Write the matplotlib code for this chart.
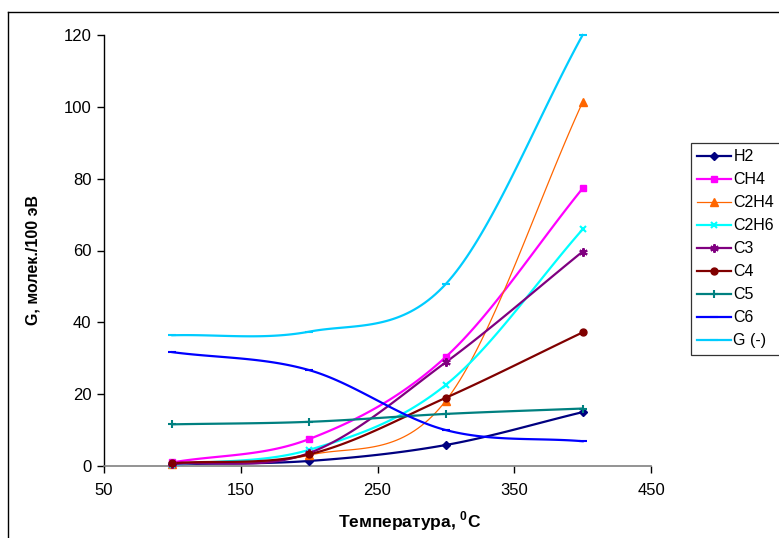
import numpy as np
import matplotlib
matplotlib.use('Agg')
import matplotlib.pyplot as plt
from matplotlib.lines import Line2D

plt.rcParams['font.family'] = ['Liberation Sans', 'DejaVu Sans']
plt.rcParams['mathtext.fontset'] = 'custom'
plt.rcParams['mathtext.rm'] = 'Liberation Sans'
plt.rcParams['mathtext.bf'] = 'Liberation Sans:bold'

# ---- data ----
temperature = [100, 200, 300, 400]
H2 = [0.5, 1.4, 5.85, 15.0]
CH4 = [1.0, 7.5, 30.4, 77.3]
C2H4 = [0.5, 3.0, 18.2, 101.3]
C2H6 = [0.3, 4.5, 22.6, 65.9]
C3 = [0.5, 3.6, 28.9, 59.7]
C4 = [0.8, 3.25, 19.0, 37.2]
C5 = [11.6, 12.3, 14.5, 16.0]
C6 = [31.7, 26.7, 10.0, 6.9]
G = [36.4, 37.4, 50.7, 120.0]

series_names = ['H2', 'CH4', 'C2H4', 'C2H6', 'C3', 'C4', 'C5', 'C6', 'G (-)']
series_values = [H2, CH4, C2H4, C2H6, C3, C4, C5, C6, G]
x_ticks = [50, 150, 250, 350, 450]
y_ticks = [0, 20, 40, 60, 80, 100, 120]

# ---- styles ----
colors = ['#000080', '#FF00FF', '#FF6600', '#00FFFF', '#800080',
          '#800000', '#008080', '#0000FF', '#00CCFF']
markers = ['D', 's', '^', 'x', (6, 2, 0), 'o', '+', '_', '_']
msizes = [4.5, 5, 5.5, 5, 6, 5, 6, 6, 6]
lwidths = [1.6, 1.6, 0.9, 1.6, 1.6, 1.6, 1.6, 1.6, 1.6]


def excel_smooth(x, y, n=40):
    P = np.column_stack([np.asarray(x, float), np.asarray(y, float)])
    m = np.zeros_like(P)
    m[1:-1] = (P[2:] - P[:-2]) / 2.0
    m[0] = P[1] - P[0]
    m[-1] = P[-1] - P[-2]
    t = np.linspace(0, 1, n)[:, None]
    h00 = 2 * t**3 - 3 * t**2 + 1
    h10 = t**3 - 2 * t**2 + t
    h01 = -2 * t**3 + 3 * t**2
    h11 = t**3 - t**2
    segs = []
    for i in range(len(P) - 1):
        s = h00 * P[i] + h10 * m[i] + h01 * P[i + 1] + h11 * m[i + 1]
        segs.append(s if i == 0 else s[1:])
    out = np.vstack(segs)
    return out[:, 0], out[:, 1]


W, H = 779, 538
fig = plt.figure(figsize=(W / 100, H / 100), dpi=100)
ax = fig.add_axes([104 / W, 1 - 466 / H, 547 / W, 431 / H])

handles = []
for name, vals, c, mk, ms, lw in zip(series_names, series_values, colors,
                                     markers, msizes, lwidths):
    mew = 1.5 if mk in ('x', '+', '_', (6, 2, 0)) else 1
    xs, ys = excel_smooth(temperature, vals)
    ax.plot(xs, ys, color=c, lw=lw, clip_on=False, zorder=3)
    ax.plot(temperature, vals, linestyle='none', marker=mk, ms=ms,
            color=c, mec=c, mew=mew, clip_on=False, zorder=4)
    handles.append(Line2D([], [], color=c, lw=lw, marker=mk, ms=ms, mec=c,
                          mew=mew, label=name))

ax.set_xlim(50, 450)
ax.set_ylim(0, 120)
ax.set_xticks(x_ticks)
ax.set_yticks(y_ticks)
ax.tick_params(axis='both', labelsize=12, direction='out', length=5,
               width=1, colors='black')
ax.tick_params(axis='y', pad=4)
ax.tick_params(axis='x', pad=7)
for s in ('top', 'right'):
    ax.spines[s].set_visible(False)
ax.spines['left'].set_color('black')
ax.spines['bottom'].set_color('#808080')
ax.spines['left'].set_linewidth(1)
ax.spines['bottom'].set_linewidth(1.2)

fig.text(410 / W, 1 - 521 / H, r'Температура, $^{\mathbf{0}}$C',
         ha='center', va='center', fontsize=12.5, fontweight='bold')
fig.text(33 / W, 1 - 260 / H, 'G, молек./100 эВ', rotation=90,
         ha='center', va='center', fontsize=11.5, fontweight='bold')

leg = fig.legend(handles=handles, loc='upper left',
                 bbox_to_anchor=(691 / W, 1 - 143 / H), borderaxespad=0,
                 fontsize=11.5, frameon=True, fancybox=False,
                 edgecolor='black', handlelength=2.1, handletextpad=0.15,
                 labelspacing=0.5, borderpad=0.4, numpoints=1)
leg.get_frame().set_linewidth(0.9)

# figure border (top and left edges visible)
fig.add_artist(Line2D([8 / W, 1.0], [1 - 12 / H, 1 - 12 / H],
                      transform=fig.transFigure, color='black', lw=1))
fig.add_artist(Line2D([8 / W, 8 / W], [0, 1 - 12 / H],
                      transform=fig.transFigure, color='black', lw=1))

fig.savefig('out.png', dpi=100)
